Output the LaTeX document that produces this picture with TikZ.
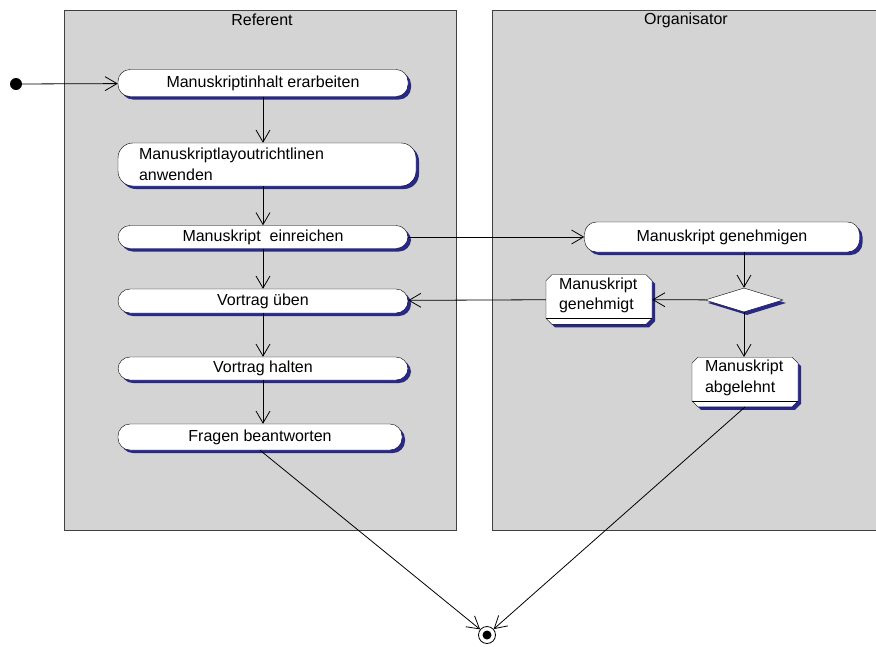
\documentclass[tikz,border=0pt]{standalone}
\usepackage{fontspec}
\setmainfont{Liberation Sans}
\usetikzlibrary{arrows.meta,shapes.geometric,shapes.misc,shadows}
\definecolor{lanegray}{RGB}{212,212,212}
\definecolor{shadowblue}{RGB}{40,40,140}

\begin{document}
\begin{tikzpicture}
[x = 1pt, y = -1pt, font = \fontsize{16}{20.5}\selectfont,
 blueshadow/.style = {drop shadow = {shadow xshift = 3pt, shadow yshift = -3pt, fill = shadowblue, opacity = 1}},
 lane/.style = {draw = black!75, fill = lanegray, line width = 1pt},
 action/.style = {draw, fill = white, rounded corners = 12pt, minimum width = 290pt, minimum height = 24pt, inner sep = 0pt, blueshadow},
 object/.style = {chamfered rectangle, chamfered rectangle xsep = 3pt, chamfered rectangle ysep = 3pt, draw, fill = white, minimum width = 0pt, minimum height = 41pt, inner xsep = 10pt, inner ysep = 0pt, text width = 80pt, align = left, blueshadow},
 decision/.style = {diamond, aspect = 3, draw, fill = white, minimum width = 78pt, minimum height = 24pt, inner sep = 0pt, blueshadow},
 flow/.style = {line width = 0.8pt, -{Straight Barb[length = 12pt, width = 14pt, line width = 0.8pt]}},
 line/.style = {line width = 0.8pt}]
\useasboundingbox (0,0) rectangle (876,646);
\draw[lane] (64,10) rectangle (456,530);
\draw[lane] (492,10) rectangle (880,530);
\node (referent) at (262,20) {Referent};
\node (organisator) at (686,20) {Organisator};

\node (start) [circle, fill = black, minimum size = 12pt, inner sep = 0pt] at (16,84) {};
\node (a1) [action, minimum height = 27pt] at (263,83) {Manuskriptinhalt erarbeiten};
\node (a2) [action, rounded corners = 15pt, minimum width = 0pt, minimum height = 43pt, inner xsep = 21pt, text width = 256pt, align = left] at (267,164.5) {Manuskriptlayoutrichtlinen\\anwenden};
\node (a3) [action, minimum height = 23pt] at (263,237) {Manuskript\ \ einreichen};
\node (a4) [action] at (263,301) {Vortrag üben};
\node (a5) [action, minimum height = 23pt] at (263,368.5) {Vortrag halten};
\node (a6) [action, minimum width = 284pt, minimum height = 26pt] at (260,437) {Fragen beantworten};

\node (gen) [action, minimum width = 275pt, minimum height = 30pt] at (722,237) {Manuskript genehmigen};
\node (dec) [decision] at (744,300) {};
\node (ok) [object] at (599,299.5) {Manuskript\\genehmigt\\[-9pt]\mbox{}};
\node (rej) [object, minimum height = 44pt] at (745,382) {Manuskript\\abgelehnt\\[-9pt]\mbox{}};
\draw[line] ([yshift = 6pt]ok.south -| ok.west) -- ([yshift = 6pt]ok.south -| ok.east);
\draw[line] ([yshift = 6pt]rej.south -| rej.west) -- ([yshift = 6pt]rej.south -| rej.east);

\node (end) [circle, draw, line width = 0.8pt, fill = white, minimum size = 17pt, inner sep = 0pt] at (487,635) {};
\fill (end) circle (4.5pt);

\draw[flow] (start) -- (a1);
\draw[flow] (a1) -- (a1 |- a2.north);
\draw[flow] (a3 |- a2.south) -- (a3);
\draw[flow] (a3) -- (a4);
\draw[flow] (a4) -- (a5);
\draw[flow] (a5) -- (a5 |- a6.north);
\draw[flow] (a3) -- (gen);
\draw[flow] (dec |- gen.south) -- (dec);
\draw[flow] (dec) -- (ok);
\draw[flow] (ok) -- (a4);
\draw[flow] (dec) -- (dec |- rej.north);
\draw[flow] (a6.south) -- (end);
\draw[flow] (rej.south) -- (end);
\end{tikzpicture}
\end{document}
